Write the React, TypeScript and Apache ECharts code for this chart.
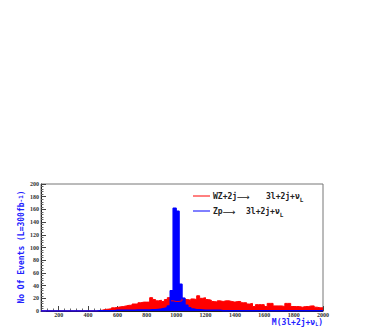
import React, { useEffect, useRef } from "react";
import * as echarts from "echarts";

const binStart = 80;
const binWidth = 20;
const xMax = 2000;

const redCounts = [
  0, 0, 0, 0, 0, 0, 0, 0, 0, 0,
  0, 0, 0, 0, 0, 0, 0, 0, 0, 0.5,
  1.5, 2.5, 3, 3.5, 5, 5.5, 6.5, 7, 8, 9,
  9, 11, 11, 13, 14, 14, 14, 21, 18, 16,
  17, 15, 18, 21, 16, 15, 15, 16, 20, 18,
  17, 19, 18, 24, 20, 21, 18, 17, 15, 14,
  16, 15, 16, 16, 15, 14, 15, 15, 13, 13,
  11, 12, 7, 10, 10, 10, 7, 12, 12, 8,
  8, 8, 7, 12, 12, 7, 7, 7, 6, 7,
  7, 8, 8, 6, 5, 5,
];

const blueCounts = [
  0, 0, 0, 0, 0, 0, 0, 0, 0, 0,
  0, 0, 0, 0, 0, 0, 0, 0, 0, 0.5,
  0.5, 0.5, 0.5, 0.5, 0.5, 1, 1, 1, 1, 1,
  1, 1, 1.5, 1.5, 1.5, 1.5, 1.5, 2, 2, 2.5,
  3, 4, 5, 8, 32, 162, 157, 42, 20, 9,
  5, 3, 2, 2, 1.5, 1, 1, 1, 1, 1,
  1, 0.5, 0.5, 0.5, 0.5, 0.5, 0.5, 0.5, 0.5, 0.5,
  0.5, 0.5, 0.5, 0.5, 0.5, 0.5, 0.5, 0.5, 0.5, 0.5,
  0.5, 0.5, 0.5, 0.5, 0.5, 0.5, 0.5, 0.5, 0.5, 0.5,
  0.5, 0.5, 0.5, 0.5, 0.5, 0.5,
];

const legendNames = ["WZ+2j{arr|\u27f6}", "Zp{arr|\u27f6}"];
const legendFinal = "3l+2j+\u03bd";
const yTitle = "No Of Events (L=300fb{sup|-1})";
const xTitle = "M(3l+2j+\u03bd{sub|L})";

function toSteps(vals: number[]) {
  const pts: number[][] = vals.map((v, i) => [binStart + i * binWidth, v]);
  pts.push([xMax, vals[vals.length - 1]]);
  return pts;
}

const mono = "'DejaVu Sans Mono', 'Liberation Mono', monospace";
const serif = "'Liberation Serif', 'DejaVu Serif', serif";

export default function App() {
  const ref = useRef<HTMLDivElement>(null);
  useEffect(() => {
    if (!ref.current) return;
    const chart = echarts.init(ref.current, null, { renderer: "svg" });
    const legendText = (t: string, x: number, y: number, color: string) => ({
      type: "text",
      left: x,
      top: y,
      style: {
        text: t,
        fill: color,
        font: `bold 8px ${mono}`,
        rich: {
          sub: { fontSize: 6, fontWeight: "bold", fontFamily: mono, verticalAlign: "bottom", padding: [6, 0, 0, 0] },
          arr: { fontSize: 9, fontFamily: "'DejaVu Sans', sans-serif", fill: color },
        },
      },
    });
    chart.setOption({
      animation: false,
      grid: {
        left: 41,
        right: 59,
        top: 184,
        bottom: 16,
        show: true,
        borderColor: "#777",
        borderWidth: 1,
        backgroundColor: "transparent",
      },
      xAxis: {
        type: "value",
        min: binStart,
        max: xMax,
        minInterval: 200,
        maxInterval: 200,
        axisLine: { show: true, lineStyle: { color: "#222", width: 1 } },
        axisTick: { show: true, inside: true, length: 5, lineStyle: { color: "#444" } },
        minorTick: { show: true, splitNumber: 5, length: 2.5, lineStyle: { color: "#666" } },
        splitLine: { show: false },
        axisLabel: {
          showMinLabel: true,
          formatter: (v: number) => (v % 200 === 0 ? String(v) : ""),
          fontSize: 6,
          fontWeight: "bold",
          fontFamily: serif,
          color: "#333",
          margin: 1,
        },
      },
      yAxis: {
        type: "value",
        min: 0,
        max: 200,
        interval: 20,
        axisLine: { show: true, lineStyle: { color: "#222", width: 1 } },
        axisTick: { show: true, inside: true, length: 5, lineStyle: { color: "#444" } },
        minorTick: { show: true, splitNumber: 5, length: 2.5, lineStyle: { color: "#666" } },
        splitLine: { show: false },
        axisLabel: {
          fontSize: 6,
          fontWeight: "bold",
          fontFamily: serif,
          color: "#333",
          margin: 2,
        },
      },
      series: [
        {
          type: "line",
          step: "end",
          symbol: "none",
          data: toSteps(redCounts),
          lineStyle: { color: "#ff0000", width: 1 },
          itemStyle: { color: "#ff0000" },
          areaStyle: { color: "#ff0000", opacity: 1 },
        },
        {
          type: "line",
          step: "end",
          symbol: "none",
          data: toSteps(blueCounts),
          lineStyle: { color: "#0000ff", width: 1.5 },
          itemStyle: { color: "#0000ff" },
          areaStyle: { color: "#0000ff", opacity: 1 },
        },
      ],
      graphic: [
        { type: "line", shape: { x1: 193, y1: 196, x2: 210, y2: 196 }, style: { stroke: "#ff0000", lineWidth: 1 } },
        { type: "line", shape: { x1: 193, y1: 211, x2: 210, y2: 211 }, style: { stroke: "#0000ff", lineWidth: 1 } },
        legendText(legendNames[0], 213, 192, "#222"),
        legendText(legendFinal + "{sub|L}", 266, 192, "#222"),
        legendText(legendNames[1], 213, 207, "#222"),
        legendText(legendFinal + "{sub|L}", 246, 207, "#222"),
        {
          type: "text",
          x: 21,
          y: 247,
          rotation: Math.PI / 2,
          style: {
            text: yTitle,
            fill: "#2222ff",
            font: `bold 8px ${mono}`,
            align: "center",
            verticalAlign: "middle",
            rich: {
              sup: { fontSize: 6, fontWeight: "bold", fontFamily: mono, fill: "#2222ff", verticalAlign: "top" },
            },
          },
        },
        {
          type: "text",
          right: 382 - 323,
          top: 318,
          style: {
            text: xTitle,
            fill: "#2222ff",
            font: `bold 8px ${mono}`,
            rich: {
              sub: { fontSize: 5, fontWeight: "bold", fontFamily: mono, fill: "#2222ff", verticalAlign: "bottom" },
            },
          },
        },
      ],
    });
    return () => chart.dispose();
  }, []);
  return (
    <div
      ref={ref}
      style={{ position: "fixed", left: 0, top: 0, width: 382, height: 327, background: "#fff" }}
    />
  );
}
